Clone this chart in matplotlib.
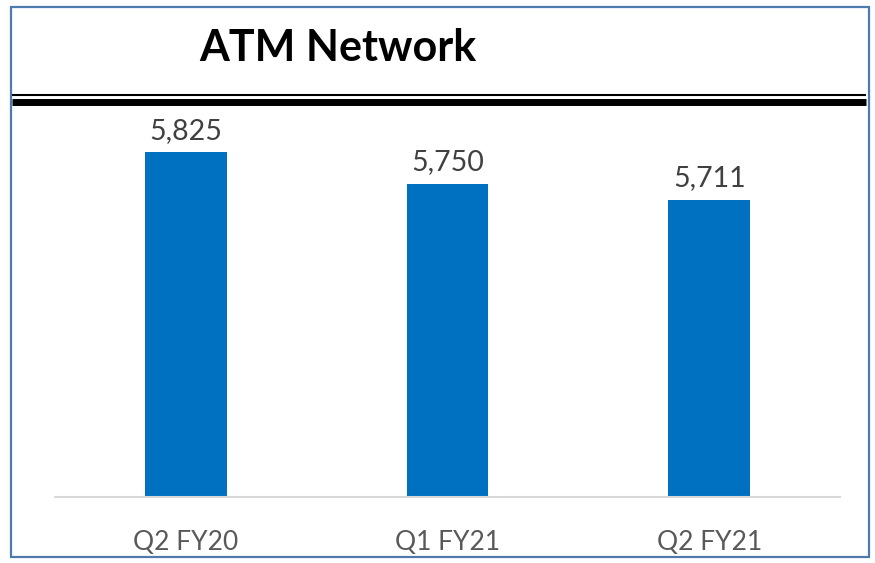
import matplotlib
matplotlib.use("Agg")
import matplotlib.pyplot as plt
from matplotlib.patches import Rectangle
from matplotlib.lines import Line2D

categories = ["Q2 FY20", "Q1 FY21", "Q2 FY21"]
values = [5825, 5750, 5711]
value_labels = ["5,825", "5,750", "5,711"]
title = "ATM Network"

W, H = 875, 563
fig = plt.figure(figsize=(W / 100, H / 100), dpi=100)
fig.patch.set_facecolor("white")

def fx(px):
    return px / W

def fy(py):
    return 1 - py / H

ax = fig.add_axes([fx(55), fy(497), fx(840) - fx(55), fy(79) - fy(497)])
x = list(range(len(categories)))
ax.bar(x, values, width=0.313, color="#0070C0", zorder=2)
ax.set_xlim(-0.5, 2.5)
ax.set_ylim(5000, 6000)
for s in ["top", "right", "left"]:
    ax.spines[s].set_visible(False)
ax.spines["bottom"].set_color("#d9d9d9")
ax.spines["bottom"].set_linewidth(1.5)
ax.set_yticks([])
ax.set_xticks(x)
ax.set_xticklabels(categories, fontsize=19, color="#595959", family=["Lato", "DejaVu Sans"])
ax.tick_params(axis="x", length=0, pad=24)
ax.patch.set_alpha(0)
for xi, v, lab in zip(x, values, value_labels):
    ax.annotate(lab, (xi, v), xytext=(0, 6), textcoords="offset points",
                ha="center", va="bottom", fontsize=20.5, color="#404040",
                family=["Lato", "DejaVu Sans"])

# title
fig.text(fx(199), fy(48), title, fontsize=31, fontweight="bold", color="black",
         ha="left", va="center", family=["Lato", "DejaVu Sans"])

# double rule under title
fig.add_artist(Line2D([fx(12), fx(866)], [fy(95), fy(95)], color="black", linewidth=1.5,
                      solid_capstyle="butt", transform=fig.transFigure))
fig.add_artist(Line2D([fx(12), fx(866)], [fy(102.2), fy(102.2)], color="black", linewidth=5.0,
                      solid_capstyle="butt", transform=fig.transFigure))

# border
fig.add_artist(Rectangle((fx(10.5), fy(557)), fx(868.5) - fx(10.5), fy(7) - fy(557),
                         fill=False, edgecolor="#4f7aae", linewidth=1.6,
                         transform=fig.transFigure))

fig.savefig("out.png", dpi=100, facecolor="white")
